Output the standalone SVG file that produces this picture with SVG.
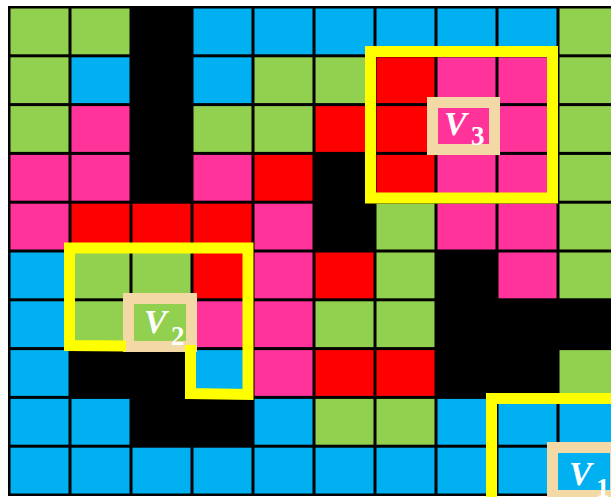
<svg xmlns="http://www.w3.org/2000/svg" width="611" height="497" viewBox="0 0 611 497">
<style>
.G{fill:#92D050}.B{fill:#00B0F0}.P{fill:#FF3399}.R{fill:#FF0000}
.yl{fill:none;stroke:#FFFF00;stroke-width:11;stroke-linejoin:miter;stroke-linecap:butt}
.lb{stroke:#F2D9A5;stroke-width:11}
.v{font-family:"Liberation Serif","DejaVu Serif",serif;font-weight:bold;fill:#FFFFFF}
.vi{font-style:italic;font-size:34px}
.vs{font-size:27px}
</style>
<rect x="0" y="0" width="611" height="497" fill="#FFFFFF"/>
<rect x="8" y="6" width="603" height="490" fill="#000000"/>
<g id="grid">
<!-- row 0: G G K B B B B B B G -->
<rect class="G" x="10.5" y="8.5" width="58" height="45.8"/>
<rect class="G" x="71.5" y="8.5" width="58" height="45.8"/>
<rect class="B" x="193.5" y="8.5" width="58" height="45.8"/>
<rect class="B" x="254.5" y="8.5" width="58" height="45.8"/>
<rect class="B" x="315.5" y="8.5" width="58" height="45.8"/>
<rect class="B" x="376.5" y="8.5" width="58" height="45.8"/>
<rect class="B" x="437.5" y="8.5" width="58" height="45.8"/>
<rect class="B" x="498.5" y="8.5" width="58" height="45.8"/>
<rect class="G" x="559.5" y="8.5" width="58" height="45.8"/>
<!-- row 1: G B K B G G R P P G -->
<rect class="G" x="10.5" y="57.3" width="58" height="45.8"/>
<rect class="B" x="71.5" y="57.3" width="58" height="45.8"/>
<rect class="B" x="193.5" y="57.3" width="58" height="45.8"/>
<rect class="G" x="254.5" y="57.3" width="58" height="45.8"/>
<rect class="G" x="315.5" y="57.3" width="58" height="45.8"/>
<rect class="R" x="376.5" y="57.3" width="58" height="45.8"/>
<rect class="P" x="437.5" y="57.3" width="58" height="45.8"/>
<rect class="P" x="498.5" y="57.3" width="58" height="45.8"/>
<rect class="G" x="559.5" y="57.3" width="58" height="45.8"/>
<!-- row 2: G P K G G R R P P G -->
<rect class="G" x="10.5" y="106.1" width="58" height="45.8"/>
<rect class="P" x="71.5" y="106.1" width="58" height="45.8"/>
<rect class="G" x="193.5" y="106.1" width="58" height="45.8"/>
<rect class="G" x="254.5" y="106.1" width="58" height="45.8"/>
<rect class="R" x="315.5" y="106.1" width="58" height="45.8"/>
<rect class="R" x="376.5" y="106.1" width="58" height="45.8"/>
<rect class="P" x="437.5" y="106.1" width="58" height="45.8"/>
<rect class="P" x="498.5" y="106.1" width="58" height="45.8"/>
<rect class="G" x="559.5" y="106.1" width="58" height="45.8"/>
<!-- row 3: P P K P R K R P P G -->
<rect class="P" x="10.5" y="154.9" width="58" height="45.8"/>
<rect class="P" x="71.5" y="154.9" width="58" height="45.8"/>
<rect class="P" x="193.5" y="154.9" width="58" height="45.8"/>
<rect class="R" x="254.5" y="154.9" width="58" height="45.8"/>
<rect class="R" x="376.5" y="154.9" width="58" height="45.8"/>
<rect class="P" x="437.5" y="154.9" width="58" height="45.8"/>
<rect class="P" x="498.5" y="154.9" width="58" height="45.8"/>
<rect class="G" x="559.5" y="154.9" width="58" height="45.8"/>
<!-- row 4: P R R R P K G P P G -->
<rect class="P" x="10.5" y="203.7" width="58" height="45.8"/>
<rect class="R" x="71.5" y="203.7" width="58" height="45.8"/>
<rect class="R" x="132.5" y="203.7" width="58" height="45.8"/>
<rect class="R" x="193.5" y="203.7" width="58" height="45.8"/>
<rect class="P" x="254.5" y="203.7" width="58" height="45.8"/>
<rect class="G" x="376.5" y="203.7" width="58" height="45.8"/>
<rect class="P" x="437.5" y="203.7" width="58" height="45.8"/>
<rect class="P" x="498.5" y="203.7" width="58" height="45.8"/>
<rect class="G" x="559.5" y="203.7" width="58" height="45.8"/>
<!-- row 5: B G G R P R G K P G -->
<rect class="B" x="10.5" y="252.5" width="58" height="45.8"/>
<rect class="G" x="71.5" y="252.5" width="58" height="45.8"/>
<rect class="G" x="132.5" y="252.5" width="58" height="45.8"/>
<rect class="R" x="193.5" y="252.5" width="58" height="45.8"/>
<rect class="P" x="254.5" y="252.5" width="58" height="45.8"/>
<rect class="R" x="315.5" y="252.5" width="58" height="45.8"/>
<rect class="G" x="376.5" y="252.5" width="58" height="45.8"/>
<rect class="P" x="498.5" y="252.5" width="58" height="45.8"/>
<rect class="G" x="559.5" y="252.5" width="58" height="45.8"/>
<!-- row 6: B G G P P G G K K K -->
<rect class="B" x="10.5" y="301.3" width="58" height="45.8"/>
<rect class="G" x="71.5" y="301.3" width="58" height="45.8"/>
<rect class="G" x="132.5" y="301.3" width="58" height="45.8"/>
<rect class="P" x="193.5" y="301.3" width="58" height="45.8"/>
<rect class="P" x="254.5" y="301.3" width="58" height="45.8"/>
<rect class="G" x="315.5" y="301.3" width="58" height="45.8"/>
<rect class="G" x="376.5" y="301.3" width="58" height="45.8"/>
<!-- row 7: B K K B P R R K K G -->
<rect class="B" x="10.5" y="350.1" width="58" height="45.8"/>
<rect class="B" x="193.5" y="350.1" width="58" height="45.8"/>
<rect class="P" x="254.5" y="350.1" width="58" height="45.8"/>
<rect class="R" x="315.5" y="350.1" width="58" height="45.8"/>
<rect class="R" x="376.5" y="350.1" width="58" height="45.8"/>
<rect class="G" x="559.5" y="350.1" width="58" height="45.8"/>
<!-- row 8: B B K K B G G B B B -->
<rect class="B" x="10.5" y="398.9" width="58" height="45.8"/>
<rect class="B" x="71.5" y="398.9" width="58" height="45.8"/>
<rect class="B" x="254.5" y="398.9" width="58" height="45.8"/>
<rect class="G" x="315.5" y="398.9" width="58" height="45.8"/>
<rect class="G" x="376.5" y="398.9" width="58" height="45.8"/>
<rect class="B" x="437.5" y="398.9" width="58" height="45.8"/>
<rect class="B" x="498.5" y="398.9" width="58" height="45.8"/>
<rect class="B" x="559.5" y="398.9" width="58" height="45.8"/>
<!-- row 9: all B -->
<rect class="B" x="10.5" y="447.7" width="58" height="45.8"/>
<rect class="B" x="71.5" y="447.7" width="58" height="45.8"/>
<rect class="B" x="132.5" y="447.7" width="58" height="45.8"/>
<rect class="B" x="193.5" y="447.7" width="58" height="45.8"/>
<rect class="B" x="254.5" y="447.7" width="58" height="45.8"/>
<rect class="B" x="315.5" y="447.7" width="58" height="45.8"/>
<rect class="B" x="376.5" y="447.7" width="58" height="45.8"/>
<rect class="B" x="437.5" y="447.7" width="58" height="45.8"/>
<rect class="B" x="498.5" y="447.7" width="58" height="45.8"/>
<rect class="B" x="559.5" y="447.7" width="58" height="45.8"/>
</g>
<g id="V3">
<rect class="yl" x="370.5" y="51.5" width="182" height="146.5"/>
<rect class="lb P" x="432.5" y="102.5" width="62" height="47"/>
<text class="v" x="444" y="135"><tspan class="vi">V</tspan><tspan class="vs" x="471" y="145">3</tspan></text>
</g>
<g id="V2">
<rect class="lb G" x="128.5" y="298.5" width="63" height="48"/>
<path class="yl" d="M126,346 L69.5,345.5 L69.5,248 L248,248 L248,394.5 L190.5,393.5 L190.5,345"/>
<text class="v" x="144" y="333"><tspan class="vi">V</tspan><tspan class="vs" x="171" y="345">2</tspan></text>
</g>
<g id="V1">
<path class="yl" d="M491.5,620 L491.5,398.5 L620,398.5"/>
<rect class="lb B" x="552.5" y="447.5" width="63" height="48"/>
<text class="v" x="569" y="485"><tspan class="vi">V</tspan><tspan class="vs" x="596" y="497">1</tspan></text>
</g>
</svg>
